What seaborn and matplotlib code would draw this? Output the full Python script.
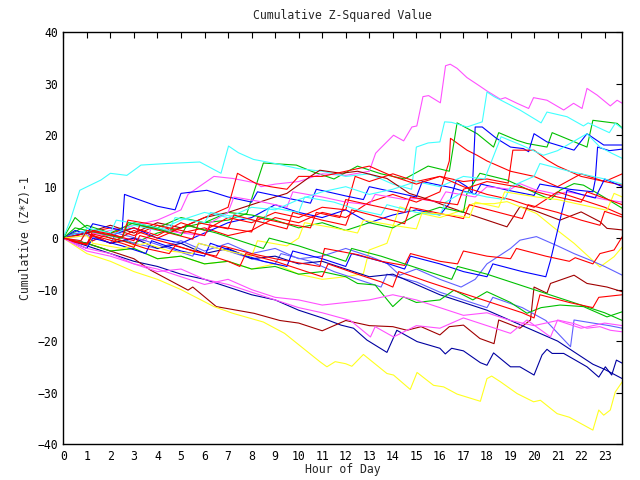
import matplotlib
matplotlib.use("Agg")
import matplotlib.pyplot as plt
import seaborn as sns
import pandas as pd

# ---- data ----
magenta_top_h = [0, 1, 2, 3, 4, 5, 5.3, 6.4, 7.2, 8.2, 8.4, 9, 10, 11, 12, 13, 13.27, 13.46, 14.03, 14.46, 14.81, 15.02, 15.28, 15.52, 16.02, 16.24, 16.44, 16.73, 17.15, 17.58, 18, 18.57, 18.78, 19.28, 19.77, 19.98, 20.55, 21.26, 21.68, 22.04, 22.25, 22.68, 23.24, 23.53, 23.75]
magenta_top_v = [0, 0.5, 1.5, 2.5, 3.5, 5.5, 8.5, 12, 11.6, 10.7, 10, 10.5, 11, 12.5, 12.2, 13, 16.5, 17.4, 20, 18.9, 21.6, 21.8, 27.5, 27.7, 26.3, 33.5, 33.8, 33, 31.2, 29.9, 28.6, 27, 27.3, 26.2, 25.2, 27.3, 26.8, 24.9, 26.2, 25.2, 29.1, 27.8, 25.7, 26.8, 26.2]

cyan_top_h = [0, 0.3, 0.7, 1.6, 2, 2.7, 3.3, 4.4, 5.8, 6.7, 7.02, 7.44, 8.08, 9, 10, 11, 12, 13, 14, 14.8, 15.0, 15.5, 16, 16.2, 16.5, 17.15, 17.8, 18, 18.3, 19.4, 20.3, 20.55, 21.4, 22.1, 22.3, 23.2, 23.45, 23.75]
cyan_top_v = [0, 3.5, 9.3, 11.3, 12.6, 12.2, 14.2, 14.5, 14.8, 12.6, 17.9, 16.6, 15.3, 14.5, 13.5, 13, 12, 12.5, 10.5, 9.5, 17.7, 18.5, 18.7, 22.6, 22.5, 21.6, 22.6, 28.4, 27.5, 24.9, 22.4, 24.5, 23.6, 21.8, 22.4, 20.5, 22.3, 21.3]

cyan_2_h = [0, 1, 2, 3, 4, 5, 6, 7, 8, 9, 10, 11, 12, 13, 14, 15, 16, 17, 17.9, 18.6, 19.5, 20.4, 21, 22.25, 22.8, 23.3, 23.75]
cyan_2_v = [0, 1.5, 0.5, 2.5, 1.5, 3.5, 5, 4, 6, 5.5, 7.5, 9, 10, 8.5, 9.5, 11, 10, 12, 11.5, 19.7, 18, 16.1, 17, 20.3, 17.7, 16.5, 15.5]

cyan_3_h = [0, 0.75, 1, 2, 2.25, 3.5, 4.5, 4.75, 6, 6.25, 7.5, 8.5, 8.75, 10, 10.25, 11.5, 12.5, 13.5, 13.75, 15, 16, 16.25, 17, 18, 18.75, 19, 20, 20.25, 21.5, 22.5, 23, 23.75]
cyan_3_v = [0, -0.5, 2, 1, 3.5, 2.5, 1.5, 4, 3, 5, 4, 3, 6, 5, 8, 7, 5.5, 4.5, 6.5, 5, 4.5, 7, 9, 8, 7.5, 10, 12, 14.5, 13, 12, 11.5, 10.5]

green_top_h = [0, 0.5, 1, 2, 3, 4, 5, 6, 7, 7.8, 8.5, 9.9, 10.6, 11.5, 12.5, 13.5, 14.5, 15.5, 16.4, 16.73, 17.58, 18.28, 18.5, 19.28, 19.7, 20.55, 20.77, 22.25, 22.5, 23.53, 23.75]
green_top_v = [0, 4, 2, 0, -1, 1, 2, 3, 3.5, 4.8, 14.6, 14.2, 12.9, 11.5, 14, 12.5, 11.5, 14, 13, 22.4, 20.3, 17.7, 20.5, 19, 18.4, 17.7, 20.5, 17.7, 22.9, 22.3, 21.4]

blue_top_h = [0, 1, 2, 3, 4, 5, 6, 7, 8, 9, 10, 11, 12, 13, 14, 15, 16, 16.4, 16.7, 17.15, 17.37, 17.5, 17.8, 18.4, 19, 19.55, 19.77, 20, 20.55, 21.7, 22.25, 22.96, 23.75]
blue_top_v = [0, 1.5, 0.5, 2, 0, -1, 1, 3, 4, 6.5, 5, 4, 5.5, 3, 4.5, 5.5, 4.5, 6.7, 11.3, 10, 8.7, 21.6, 21.6, 19.4, 17.7, 17.4, 16.8, 20.3, 18.7, 17.1, 20.3, 18.1, 18.1]

blue_2_h = [0, 0.5, 1, 1.25, 2, 2.5, 2.6, 3.2, 4, 4.75, 5, 6.1, 7, 8, 8.25, 9.5, 10.5, 10.75, 12, 12.75, 13, 14, 15, 15.25, 16.5, 17.5, 17.75, 19, 20, 20.25, 21.5, 22.5, 22.6, 22.7, 23.2, 23.75]
blue_2_v = [0, 1.5, 0.8, 2.8, 2, 1.5, 8.5, 7.5, 6.2, 5.5, 8.7, 9.3, 8, 7, 9, 7.8, 6.8, 9.5, 8.2, 7.5, 10, 9, 8, 11, 9.8, 8.5, 10.5, 9.2, 8.3, 10.5, 9.5, 9, 11.3, 17.7, 17, 17.3]

blue_3_h = [0, 1, 1.25, 2.5, 3.5, 3.75, 5, 6, 6.25, 7.5, 8.5, 9.5, 9.75, 11, 12, 12.25, 13.5, 14.5, 14.75, 16, 17, 18, 18.25, 19.5, 20.5, 20.7, 21.4, 22, 22.6, 23, 23.75]
blue_3_v = [0, -2, 0, -1.5, -3, -0.5, -2.5, -3.5, -1, -3, -4.5, -5.5, -2.5, -4, -5.5, -3, -4.5, -6, -3.5, -5, -6.5, -7.5, -5, -6.5, -7.5, -4.3, 9.3, 8.5, 7.8, 11.5, 10]

red_1_h = [0, 1, 2, 3, 4, 5, 6, 7, 8, 9, 10, 11, 12, 13, 14, 15, 16, 16.4, 16.45, 17.15, 17.58, 18, 19, 20, 21, 22, 23, 23.75]
red_1_v = [0, 1, 2, 0.5, 2.5, 1, 2, 0.5, 1.5, 4, 3, 5, 4, 7, 8.5, 7, 9, 15, 19.4, 17.1, 16.1, 15, 13, 12, 10, 12.5, 11, 12.5]

red_2_h = [0, 1, 2, 3, 4, 5, 6, 7, 8, 9, 10, 11, 12, 12.4, 13, 14, 15, 16, 17, 18, 18.9, 19.1, 20, 20.55, 21, 22, 23, 23.75]
red_2_v = [0, -1, 1, 2, 0.5, 3, 1.5, 4, 3, 5, 4, 6, 5.5, 12, 11, 12.5, 11, 12, 11, 11.5, 10.7, 17.1, 17.1, 15.2, 14, 12, 11, 10.3]

red_3_h = [0, 1, 2, 3, 4, 5, 6, 7, 7.4, 8.2, 8.8, 9.5, 10, 11, 12, 13, 14, 15, 16, 17, 18, 19, 20, 21, 22, 23, 23.75]
red_3_v = [0, 1, -1, 1.5, 0, 2, 4, 6, 12.6, 10.6, 10, 9.5, 12, 12, 13, 14, 12, 10.5, 12, 10, 8.5, 7.5, 6, 9, 7.5, 6, 4.5]

red_4_h = [0, 0.5, 1, 1.25, 2, 3, 3.25, 4.5, 5.5, 5.75, 7, 7.25, 8.5, 9.5, 9.75, 11, 12, 12.25, 13.5, 14.5, 14.75, 16, 17, 17.25, 18.5, 19.5, 19.75, 21, 22, 22.8, 23, 23.75]
red_4_v = [0, -0.8, -1.3, 1.5, 0.8, -0.5, 2.5, 1, -0.2, 3, 1.8, 4.5, 3, 1.8, 5, 3.5, 2.5, 5.5, 4, 2.8, 6, 4.8, 3.8, 6.5, 5, 3.8, 6.5, 5, 3.5, 2.5, 5.2, 4.1]

red_5_h = [0, 0.75, 1, 2.5, 2.75, 4, 5.5, 6, 6.25, 8, 8.25, 9.5, 10.5, 10.75, 11.75, 12, 13.5, 14.5, 14.75, 16, 16.75, 17, 18, 19.5, 20.5, 21.5, 22, 22.25, 23.75]
red_5_v = [0, -0.5, 1.5, 0.2, 3.5, 2.5, 1, 0.5, 2.5, 1.2, 4, 2.8, 2, 5, 4, 7.5, 6, 5, 8, 7, 6.5, 9.5, 11, 9.8, 8.5, 7.5, 7, 9, 6.5]

red_mid_h = [0, 1, 1.25, 2.5, 3, 3.25, 4.5, 5.5, 6.5, 6.75, 8, 9, 10, 10.9, 11.1, 12.5, 13.5, 14.5, 14.75, 16, 16.75, 17, 18, 19, 19.25, 20.5, 21.5, 21.75, 22.5, 22.8, 23.4, 23.75]
red_mid_v = [0, -1.2, 0.5, -1, -1.8, 0.5, -1, -2.5, -3.5, -1.5, -3, -4, -4.8, -5.5, -2, -3.2, -4.5, -5.3, -3, -4.5, -5, -2.5, -3.5, -4, -2, -3.5, -4.5, -3.8, -5, -3, -2.3, 0.3]

red_low_h = [0, 1, 1.25, 2.5, 3.5, 4.5, 4.75, 6, 7, 7.5, 7.75, 9, 10, 11, 11.25, 12.5, 13.5, 14, 14.25, 15.5, 16.5, 17.5, 18.5, 19.5, 20, 20.25, 21.5, 22.5, 22.75, 23.75]
red_low_v = [0, -1.2, 0.8, -0.5, -2, -3, -1.5, -3, -4.5, -5.5, -3, -4.5, -6, -7.5, -5, -7, -8.5, -9.5, -6.5, -8.5, -10, -11.5, -13, -14.5, -15.5, -11, -12.5, -13.5, -11.5, -11]

darkred_mid_h = [0, 1, 2, 3, 4, 5, 6, 7, 8, 9, 9.5, 10.5, 10.9, 11.8, 12.5, 13.75, 14.7, 15.6, 16.4, 17.15, 18, 18.85, 19.4, 20, 21.1, 22, 22.8, 23.1, 23.75]
darkred_mid_v = [0, 1, 2.5, 1, 3, 2, 4, 5, 6.5, 8, 8.7, 12, 13.2, 12.6, 13, 11.6, 8.7, 7.4, 6, 4.8, 3.5, 2.2, 6.1, 5.4, 3.5, 5.1, 3.2, 1.9, 1.6]

darkred_low_h = [0, 1, 2, 3, 3.7, 5.3, 5.5, 6.5, 8.1, 9.2, 10, 11, 12, 13, 14, 14.6, 15.2, 16, 16.4, 17, 17.7, 18.3, 18.5, 19.4, 19.85, 20, 20.55, 20.7, 21.7, 22.25, 23.1, 23.75]
darkred_low_v = [0, -1, -2.5, -4, -6.2, -10.1, -9.5, -13.3, -14.6, -16, -16.5, -18, -16, -17, -17.2, -17.9, -17.2, -18.8, -17.2, -16.9, -19.5, -20.5, -15.9, -17.5, -15.9, -9.5, -10.7, -8.8, -7.2, -8.8, -9.5, -10.4]

green_mid_h = [0, 1, 2, 3, 4, 5, 6, 7, 8, 9, 10, 11, 12, 13, 14, 15, 16, 17, 17.15, 17.7, 18.85, 20.1, 20.7, 21.1, 21.7, 22.1, 22.96, 23.75]
green_mid_v = [0, 2.5, 1, 3, 2, 4, 3, 5, 4.5, 3.5, 2, 3, 1.5, 3, 2, 4.5, 6, 5, 8.7, 12.6, 11.3, 8.7, 7.5, 9.3, 10.6, 10.3, 8, 5.8]

green_low1_h = [0, 1, 2, 3, 4, 5, 6, 7, 8, 9, 10, 11, 12, 12.5, 13.25, 14, 14.45, 15, 16, 16.6, 17.4, 18, 19, 19.7, 20.3, 21.1, 22.1, 23.1, 23.75]
green_low1_v = [0, -1, -2.5, -2, -4, -3.5, -5, -4.5, -6, -5.5, -7, -6.5, -7.5, -8.8, -9.1, -13.3, -11.4, -12.5, -12, -10.1, -12, -10.4, -12.5, -14.6, -13.5, -13, -13.3, -15.3, -14.3]

green_low2_h = [0, 0.5, 1.5, 2.5, 2.75, 4, 5, 5.25, 6.5, 7.5, 8.5, 8.75, 10, 11, 12, 12.25, 13.5, 14.5, 15.5, 16.5, 16.75, 18, 19, 20, 21, 22, 23, 23.75]
green_low2_v = [0, 2, 1, 0, 3, 1.8, 0.5, 2.5, 1, -0.5, -2, 0, -1.5, -3, -4.5, -2, -3.5, -5, -6.5, -8, -5.5, -7, -8.5, -10, -11.5, -13, -14.5, -16]

yellow_bottom_h = [0, 1, 2, 3, 4, 5, 6.4, 7.2, 8.5, 9.4, 10.9, 11.2, 11.55, 12, 12.26, 12.75, 13.75, 14.03, 14.74, 15.03, 15.73, 16.16, 16.73, 17.72, 18.0, 18.2, 18.57, 19.28, 19.98, 20.27, 20.98, 21.5, 22.1, 22.5, 22.75, 22.96, 23.24, 23.45, 23.75]
yellow_bottom_v = [0, -3, -4.5, -6.5, -8, -10, -13.3, -14.6, -16.3, -18.5, -24, -25, -24, -24.4, -24.9, -22.6, -26.3, -26.6, -29.4, -26.1, -28.6, -28.9, -30.3, -31.7, -27.3, -26.8, -27.9, -30.2, -31.8, -31.5, -34.1, -34.8, -36.3, -37.3, -33.4, -34.4, -33.4, -29.9, -27.9]

yellow_mid1_h = [0, 1, 2, 3, 4, 5, 6, 7, 8, 9, 10, 11, 12, 12.75, 13, 13.75, 14.3, 15, 16, 17, 17.4, 18.3, 18.85, 19.4, 20.1, 20.8, 21.7, 22.8, 23.4, 23.75]
yellow_mid1_v = [0, -1, -2.5, -2, -4, -3.5, -5, -4.5, -6, -5, -7, -8, -7.5, -6.9, -2.3, -1, 6.1, 5, 4, 5.5, 6.7, 6.7, 7.1, 6.1, 4.8, 2.2, -1, -5.6, -3.6, -1.7]

yellow_mid2_h = [0, 1, 1.25, 2.5, 3.5, 4.5, 5.5, 5.75, 7, 8, 8.25, 9.5, 10, 10.25, 11.5, 12.5, 12.75, 14, 15, 15.25, 16.5, 17.25, 17.5, 18.5, 18.75, 20.1, 21, 22, 23.1, 23.4, 23.75]
yellow_mid2_v = [0, 0.5, -1, -2, -1, -2.5, -3, -1, -2.5, -3.5, -0.5, -1.5, 0, 3, 2, 1, 3.5, 2.5, 1.8, 5, 4.5, 4, 7, 6, 9, 8, 7.5, 6.5, 5.4, 8.7, 8]

navy_bottom_h = [0, 1, 2, 3, 4, 5, 6, 7, 8, 9, 10, 11, 11.8, 12.33, 12.9, 13.75, 14.17, 15.03, 16.0, 16.23, 16.5, 17, 17.72, 18, 18.28, 19.0, 19.4, 20, 20.34, 20.55, 20.77, 21.26, 22.25, 22.75, 23.03, 23.3, 23.5, 23.75]
navy_bottom_v = [0, -1.5, -3, -4.5, -5.5, -7, -8, -9.5, -11, -12, -14, -15.5, -16.9, -17.5, -19.8, -22.2, -17.9, -20.1, -21.4, -22.5, -21.4, -21.9, -24.2, -24.7, -22.3, -25, -25, -26.6, -22.7, -21.6, -22.4, -22.4, -25, -27, -25, -26.6, -23.7, -24.3]

blue_bottom_h = [0, 1, 2, 3, 4, 5, 6, 7, 8, 9, 10, 11, 12, 13, 14, 15, 16, 17, 18, 19, 20, 21, 22, 22.5, 23, 23.75]
blue_bottom_v = [0, 1, -1, 0, -2, -1, -3, -2, -4, -3.5, -5, -4.5, -6, -7.5, -7, -9, -11, -12.5, -14, -16, -18, -20, -23, -24.5, -25.5, -27.3]

periwinkle_mid_h = [0, 1, 2, 3, 4, 5, 6, 7, 8, 9, 10, 11, 12, 13, 13.75, 14.3, 15, 16, 16.9, 17.5, 18, 19, 19.4, 20.1, 21, 21.7, 22.4, 23, 23.75]
periwinkle_mid_v = [0, -1, 1, -1, -2, -0.5, -2.5, -1, -3, -2, -4, -3.5, -2, -3.5, -4.9, -7.2, -6, -8, -9.5, -8, -5, -2, -0.4, 0.3, -1.5, -3, -4.3, -5.5, -7.2]

periwinkle_low_h = [0, 0.5, 1.5, 2, 2.25, 3.5, 4.5, 5.5, 5.75, 7, 8, 9, 9.25, 10.5, 11.5, 12.5, 13.5, 13.75, 15, 16, 17, 18, 18.25, 19.5, 20.5, 21.55, 21.7, 22.5, 23.2, 23.75]
periwinkle_low_v = [0, 1, 0, -1, 1, -0.5, -2, -3.5, -1, -2.5, -4, -5, -3, -4.5, -6.5, -8, -9.5, -7, -8.5, -10.5, -12, -13.5, -11.5, -13.5, -16, -21.1, -15.9, -16.5, -17, -17.5]

magenta_mid_h = [0, 1, 1.25, 2.5, 3.5, 3.75, 5, 6, 6.25, 7, 7.25, 8.5, 9.5, 9.75, 11, 12, 13, 13.25, 14.5, 15, 16, 16.25, 17.5, 18, 19, 19.4, 20, 21, 21.4, 22, 23, 23.75]
magenta_mid_v = [0, -1, 1, 0, -0.5, 2, 1, 0.5, 3, 5, 8, 7, 6, 9, 8, 7, 6.5, 8.5, 7.5, 7.7, 7, 9, 8, 10, 9.5, 10.6, 9.5, 8.5, 9, 8.5, 7.5, 7]

magenta_low1_h = [0, 1, 2, 3, 4, 5, 6, 7, 8, 9, 10, 11, 12.2, 13.05, 13.25, 14.03, 15, 16, 17, 18, 19, 19.7, 20.7, 21, 21.7, 22.25, 22.8, 23.24, 23.75]
magenta_low1_v = [0, -2, -3, -5, -6.5, -6, -8, -9, -10.5, -12, -13.5, -14.5, -16, -19.2, -17.2, -19.2, -17, -17.5, -15.5, -17, -18.5, -15.9, -19.2, -15.9, -16.6, -17.5, -17.2, -17.9, -18.2]

magenta_low2_h = [0, 1, 2, 3, 4, 5, 6, 7, 8, 9, 10, 11, 12, 13, 14, 15, 16, 17, 18, 19, 20, 21, 22, 23, 23.75]
magenta_low2_v = [0, -2.5, -3.5, -5, -6, -7.5, -9, -8, -10, -11.5, -12, -13, -12.5, -12, -11, -12, -13.5, -15, -14.5, -16, -17, -16, -17.5, -16.5, -17]

x_ticks = list(range(0, 24))
y_ticks = [-40, -30, -20, -10, 0, 10, 20, 30, 40]
title = "Cumulative Z-Squared Value"
x_label = "Hour of Day"
y_label = "Cumulative (Z*Z)-1"

RED, GREEN, BLUE, MAG, CYAN = "#ff0000", "#00c000", "#0000ff", "#ff50ff", "#40ffff"
DKRED, YELLOW, PERI, NAVY = "#a00000", "#ffff20", "#6060ff", "#0000a0"

series = [
    ("red_1", red_1_h, red_1_v, RED),
    ("green_top", green_top_h, green_top_v, GREEN),
    ("blue_top", blue_top_h, blue_top_v, BLUE),
    ("magenta_top", magenta_top_h, magenta_top_v, MAG),
    ("cyan_top", cyan_top_h, cyan_top_v, CYAN),
    ("darkred_mid", darkred_mid_h, darkred_mid_v, DKRED),
    ("yellow_mid1", yellow_mid1_h, yellow_mid1_v, YELLOW),
    ("periwinkle_mid", periwinkle_mid_h, periwinkle_mid_v, PERI),
    ("navy_bottom", navy_bottom_h, navy_bottom_v, NAVY),
    ("red_2", red_2_h, red_2_v, RED),
    ("green_mid", green_mid_h, green_mid_v, GREEN),
    ("blue_2", blue_2_h, blue_2_v, BLUE),
    ("magenta_mid", magenta_mid_h, magenta_mid_v, MAG),
    ("cyan_2", cyan_2_h, cyan_2_v, CYAN),
    ("darkred_low", darkred_low_h, darkred_low_v, DKRED),
    ("yellow_bottom", yellow_bottom_h, yellow_bottom_v, YELLOW),
    ("periwinkle_low", periwinkle_low_h, periwinkle_low_v, PERI),
    ("blue_bottom", blue_bottom_h, blue_bottom_v, NAVY),
    ("red_3", red_3_h, red_3_v, RED),
    ("green_low1", green_low1_h, green_low1_v, GREEN),
    ("blue_3", blue_3_h, blue_3_v, BLUE),
    ("magenta_low1", magenta_low1_h, magenta_low1_v, MAG),
    ("cyan_3", cyan_3_h, cyan_3_v, CYAN),
    ("red_4", red_4_h, red_4_v, RED),
    ("yellow_mid2", yellow_mid2_h, yellow_mid2_v, YELLOW),
    ("red_mid", red_mid_h, red_mid_v, RED),
    ("green_low2", green_low2_h, green_low2_v, GREEN),
    ("magenta_low2", magenta_low2_h, magenta_low2_v, MAG),
    ("red_5", red_5_h, red_5_v, RED),
    ("red_low", red_low_h, red_low_v, RED),
]

rows = []
for name, hs, vs, _c in series:
    for h, v in zip(hs, vs):
        rows.append({"series": name, "hour": h, "value": v})
df = pd.DataFrame(rows)
palette = {name: c for name, _h, _v, c in series}

sns.set_style("white")
plt.rcParams["font.family"] = ["DejaVu Sans Mono", "DejaVu Sans"]

fig = plt.figure(figsize=(6.4, 4.8), dpi=100)
ax = fig.add_axes([63.3 / 640, 1 - 444 / 480, (622.3 - 63.3) / 640, (444 - 32.3) / 480])

sns.lineplot(data=df, x="hour", y="value", hue="series", palette=palette,
             estimator=None, legend=False, linewidth=0.8, ax=ax)

ax.set_xlim(0, 23.75)
ax.set_ylim(-40, 40)
ax.set_xticks(x_ticks)
ax.set_yticks(y_ticks)
ax.tick_params(direction="in", length=4, width=0.8, colors="black",
               top=True, right=True, labelsize=8.3, pad=4)
for sp in ax.spines.values():
    sp.set_color("black")
    sp.set_linewidth(1.0)
    sp.set_visible(True)
ax.set_xlabel("")
ax.set_ylabel("")
ax.grid(False)

fig.text(0.5 + 22 / 640, 1 - 16 / 480, title, ha="center", va="center", fontsize=8.3)
fig.text(343 / 640, 1 - 470 / 480, x_label, ha="center", va="center", fontsize=8.3)
fig.text(26 / 640, 1 - 238 / 480, y_label, ha="center", va="center", rotation=90, fontsize=8.3)

fig.savefig("out.png", dpi=100, facecolor="white")
